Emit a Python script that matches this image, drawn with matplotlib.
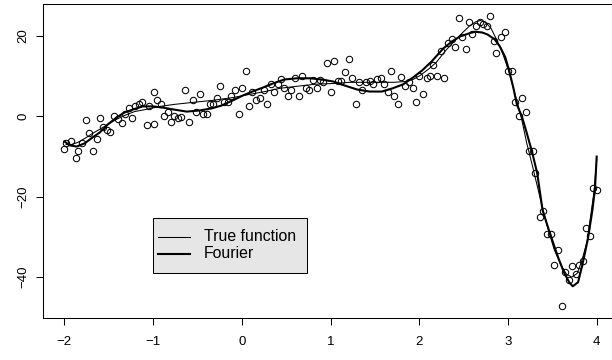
import matplotlib
matplotlib.use("Agg")
import matplotlib.pyplot as plt
from matplotlib.patches import Rectangle

plt.rcParams['font.family'] = ['Liberation Sans', 'DejaVu Sans']

# observed data points
x_obs = [-2.007, -1.98, -1.92, -1.87, -1.84, -1.80, -1.76, -1.72, -1.68, -1.63,
         -1.60, -1.56, -1.52, -1.48, -1.44, -1.40, -1.35, -1.32, -1.27, -1.24,
         -1.20, -1.16, -1.12, -1.07, -1.04, -0.99, -0.99, -0.96, -0.91, -0.88,
         -0.83, -0.80, -0.76, -0.72, -0.68, -0.64, -0.60, -0.55, -0.52, -0.47,
         -0.44, -0.39, -0.36, -0.32, -0.28, -0.24, -0.20, -0.16, -0.12, -0.08,
         -0.03, 0.00, 0.05, 0.08, 0.12, 0.16, 0.20, 0.25, 0.28, 0.33,
         0.36, 0.41, 0.44, 0.48, 0.52, 0.56, 0.60, 0.64, 0.68, 0.72,
         0.76, 0.80, 0.85, 0.88, 0.92, 0.96, 1.00, 1.04, 1.08, 1.12,
         1.16, 1.21, 1.24, 1.29, 1.32, 1.36, 1.40, 1.44, 1.48, 1.52,
         1.57, 1.60, 1.65, 1.68, 1.72, 1.76, 1.80, 1.84, 1.88, 1.93,
         1.96, 2.00, 2.04, 2.09, 2.12, 2.16, 2.20, 2.24, 2.28, 2.32,
         2.37, 2.40, 2.45, 2.48, 2.53, 2.56, 2.60, 2.64, 2.68, 2.72,
         2.76, 2.80, 2.84, 2.87, 2.92, 2.97, 3.00, 3.04, 3.08, 3.12,
         3.16, 3.20, 3.24, 3.28, 3.31, 3.36, 3.40, 3.44, 3.48, 3.52,
         3.56, 3.61, 3.64, 3.69, 3.72, 3.77, 3.80, 3.84, 3.88, 3.92,
         3.96, 4.00]
y_obs = [-8.2, -6.7, -6.0, -10.4, -8.7, -6.7, -1.0, -4.2, -8.7, -5.7,
         -0.5, -2.7, -3.5, -4.0, 0.0, -0.7, -1.7, 0.5, 2.0, -0.5,
         2.5, 3.0, 3.5, -2.2, 2.5, -2.0, 6.2, 4.0, 3.0, 0.0,
         1.2, -1.5, 0.2, -0.5, -0.2, 6.5, -1.5, 4.0, 1.2, 5.5,
         0.5, 0.5, 3.0, 3.0, 4.7, 7.5, 3.7, 3.5, 5.0, 6.7,
         0.5, 7.0, 11.2, 2.7, 6.2, 4.0, 4.5, 6.7, 3.0, 8.0,
         6.2, 8.0, 9.2, 7.0, 5.0, 6.5, 9.5, 5.0, 10.0, 7.2,
         6.5, 9.0, 7.2, 9.0, 8.5, 13.2, 6.2, 13.7, 8.7, 8.7,
         11.0, 14.4, 9.5, 3.0, 8.5, 6.5, 8.5, 8.7, 8.2, 9.2,
         9.5, 8.2, 6.0, 11.4, 5.0, 3.0, 9.7, 7.5, 8.5, 7.2,
         3.7, 10.0, 5.7, 9.5, 10.0, 12.7, 10.0, 16.2, 9.5, 18.2,
         19.4, 17.4, 24.6, 19.7, 16.7, 23.4, 20.6, 22.4, 23.4, 22.9,
         22.4, 25.1, 18.7, 15.9, 19.7, 21.1, 11.4, 11.2, 3.5, 0.0,
         4.5, 1.2, -8.7, -8.5, -14.2, -25.1, -23.6, -29.4, -29.4, -37.1,
         -33.3, -47.3, -38.8, -40.8, -37.3, -39.3, -37.1, -36.1, -27.9, -29.9,
         -17.9, -18.4]

# true function (thin line)
x_true = [-1.98, -1.92, -1.85, -1.77, -1.68, -1.60, -1.51, -1.41, -1.32, -1.21,
          -1.09, -0.92, -0.76, -0.55, -0.33, -0.10, 0.09, 0.26, 0.43, 0.62,
          0.82, 1.03, 1.22, 1.39, 1.56, 1.72, 1.84, 1.93, 2.01, 2.10,
          2.19, 2.29, 2.40, 2.49, 2.57, 2.64, 2.69, 2.75, 2.81, 2.87,
          2.94, 3.01, 3.08, 3.15, 3.21, 3.28, 3.36, 3.44, 3.52, 3.60,
          3.66, 3.72, 3.78, 3.83, 3.89, 3.93, 3.97, 4.00]
y_true = [-7.0, -7.0, -6.5, -5.5, -4.2, -3.2, -2.0, -0.7, 0.25, 1.2,
          1.7, 2.5, 3.0, 3.5, 4.0, 4.7, 5.5, 6.2, 7.0, 7.5,
          8.0, 8.2, 8.5, 8.5, 8.5, 8.5, 8.7, 9.2, 10.2, 11.7,
          13.4, 16.2, 18.9, 20.9, 22.6, 23.6, 23.9, 23.4, 21.9, 19.2,
          15.7, 11.2, 5.5, -0.25, -6.5, -12.7, -20.1, -27.1, -33.1, -37.1,
          -39.3, -40.0, -39.1, -36.1, -31.3, -25.1, -18.7, -10.7]

# Fourier fit (thick line)
x_four = [-2.00, -1.94, -1.86, -1.77, -1.68, -1.60, -1.51, -1.41, -1.32, -1.23,
          -1.12, -1.00, -0.89, -0.76, -0.62, -0.47, -0.34, -0.23, -0.10, 0.01,
          0.12, 0.24, 0.35, 0.48, 0.62, 0.77, 0.90, 1.03, 1.16, 1.30,
          1.44, 1.58, 1.70, 1.82, 1.93, 2.03, 2.14, 2.27, 2.37, 2.46,
          2.55, 2.63, 2.71, 2.77, 2.85, 2.91, 2.97, 3.01, 3.06, 3.10,
          3.16, 3.21, 3.27, 3.33, 3.39, 3.47, 3.56, 3.63, 3.69, 3.73,
          3.79, 3.84, 3.90, 3.95, 3.98, 4.00]
y_four = [-6.2, -7.2, -7.5, -6.7, -5.2, -4.0, -2.0, -0.25, 1.0, 1.7,
          2.5, 2.5, 2.2, 1.7, 1.2, 1.5, 2.0, 2.7, 4.0, 5.2,
          6.2, 7.2, 8.2, 9.2, 9.5, 9.5, 9.2, 8.7, 7.7, 6.7,
          6.2, 6.2, 7.0, 8.0, 9.7, 11.4, 13.7, 16.9, 18.7, 19.9,
          20.6, 21.1, 20.9, 20.4, 19.2, 17.4, 14.7, 11.7, 7.2, 3.0,
          -0.25, -4.0, -8.7, -14.2, -23.4, -28.9, -34.8, -38.8, -41.3, -42.3,
          -41.3, -36.8, -30.6, -23.6, -18.2, -10.0]

x_ticks = [-2, -1, 0, 1, 2, 3, 4]
y_ticks = [-40, -20, 0, 20]
legend_labels = ["True function", "Fourier"]

W, H = 612, 360
fig = plt.figure(figsize=(W / 100, H / 100), dpi=100)
ax_l, ax_r, ax_t, ax_b = 43, 618, 4, 318
ax = fig.add_axes([ax_l / W, 1 - ax_b / H, (ax_r - ax_l) / W, (ax_b - ax_t) / H])

ax.plot(x_obs, y_obs, linestyle='none', marker='o', markersize=4.6,
        markerfacecolor='none', markeredgecolor='black', markeredgewidth=0.75)
ax.plot(x_true, y_true, color='black', linewidth=0.75)
ax.plot(x_four, y_four, color='black', linewidth=1.5)

ax.set_xlim(-2.24, 4.24)
ax.set_ylim(-50.2, 28.0)
ax.set_xticks(x_ticks)
ax.set_yticks(y_ticks)
ax.set_xticklabels([str(v).replace('-', '\u2212') for v in x_ticks], fontsize=9.5)
ax.set_yticklabels([str(v).replace('-', '\u2212') for v in y_ticks], fontsize=9.5,
                   rotation=90, va='center')
ax.tick_params(axis='both', direction='out', length=5, width=0.75, color='black')
ax.tick_params(axis='x', pad=8)
ax.tick_params(axis='y', pad=5)
for s in ax.spines.values():
    s.set_linewidth(0.75)
    s.set_color('black')

# legend box (layout in axes fraction)
def fx(px):
    return (px - ax_l) / (ax_r - ax_l)

def fy(py):
    return 1 - (py - ax_t) / (ax_b - ax_t)

ax.add_patch(Rectangle((fx(153), fy(273)), fx(307) - fx(153), fy(218) - fy(273),
                       transform=ax.transAxes, facecolor='#e6e6e6',
                       edgecolor='black', linewidth=0.75, zorder=5))
for label, lw, py in zip(legend_labels, [0.75, 1.5], [237, 254]):
    ax.plot([fx(158), fx(190)], [fy(py), fy(py)], transform=ax.transAxes,
            color='black', linewidth=lw, zorder=6)
    ax.text(fx(204), fy(py), label, transform=ax.transAxes, fontsize=11.4,
            va='center', ha='left', zorder=6)

fig.savefig("out.png", dpi=100)
